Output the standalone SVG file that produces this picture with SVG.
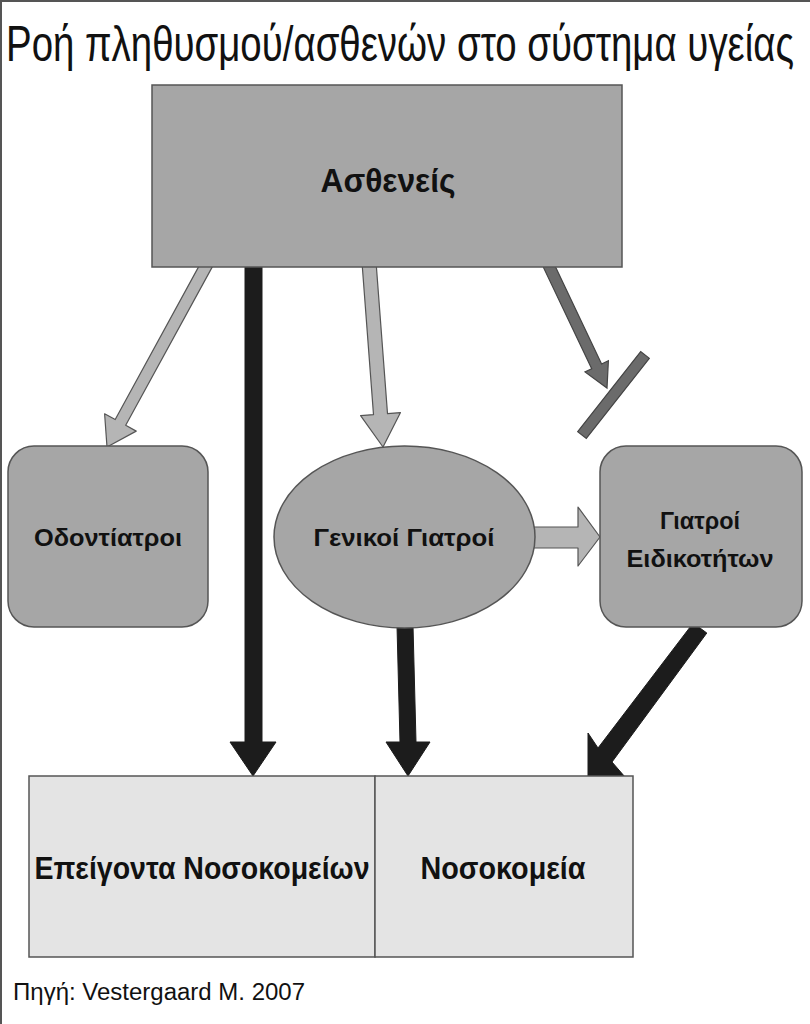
<svg xmlns="http://www.w3.org/2000/svg" width="810" height="1024" viewBox="0 0 810 1024">
<style>
.t{font-family:"Liberation Sans",Arial,sans-serif;fill:#111}
.b{font-weight:bold;text-anchor:middle}
.node{fill:#a6a6a6;stroke:#555;stroke-width:1.5}
.low{fill:#e4e4e4;stroke:#555;stroke-width:1.5}
.light{fill:#b5b5b5;stroke:#555;stroke-width:1.2;stroke-linejoin:round}
.dark{fill:#6b6b6b;stroke:#444;stroke-width:1.2}
.black{fill:#1c1c1c;stroke:#1c1c1c;stroke-width:1}
</style>
<rect x="0" y="0" width="810" height="1024" fill="#fff"/>
<line x1="1" y1="0" x2="1" y2="1024" stroke="#555" stroke-width="2"/>
<line x1="0" y1="1" x2="810" y2="1" stroke="#555" stroke-width="2"/>
<text class="t" x="6" y="45.2" font-size="37" transform="scale(1,1.35)" textLength="788" lengthAdjust="spacingAndGlyphs">Ροή πληθυσμού/ασθενών στο σύστημα υγείας</text>

<g id="connectors">
  <polygon class="light" points="212.3,266.9 125.7,425.3 136.2,431.1 107,447 104.6,413.8 115.2,419.5 201.7,261.1"/>
  <polygon class="black" points="245,262 262,262 262,742 276,742 253,776 230,742 245,742"/>
  <polygon class="light" points="376,261.5 387.5,413.6 400.5,412.6 383,447 360.6,415.6 373.5,414.6 362,262.5"/>
  <polygon class="dark" points="552,259.6 601.6,364 608.4,360.8 607,388 585,371.9 591.7,368.7 542,264.4"/>
  <polygon class="dark" points="649.3,358.4 586.3,438.4 577.7,431.6 640.7,351.6"/>
  <polygon class="light" points="525,527 578,527 578,507 600,537 578,566 578,548 525,548"/>
  <polygon class="black" points="397,626 413,626 416,742 430,742 408,776 386,742 400,742"/>
  <polygon class="black" points="693.2,623 706.8,633 612,762 625,777 588,777 588,733 598,748"/>
</g>

<g id="patients">
  <rect class="node" x="152" y="85" width="470" height="182"/>
  <text class="t b" x="388" y="192" font-size="33" textLength="135" lengthAdjust="spacingAndGlyphs">Ασθενείς</text>
</g>
<g id="dentists">
  <rect class="node" x="8" y="446" width="200" height="181" rx="26" ry="26"/>
  <text class="t b" x="108" y="546" font-size="24" textLength="148" lengthAdjust="spacingAndGlyphs">Οδοντίατροι</text>
</g>
<g id="gps">
  <ellipse class="node" cx="404.5" cy="537" rx="130.5" ry="91"/>
  <text class="t b" x="404" y="546" font-size="24" textLength="181" lengthAdjust="spacingAndGlyphs">Γενικοί Γιατροί</text>
</g>
<g id="specialists">
  <rect class="node" x="600" y="446" width="202" height="181" rx="26" ry="26"/>
  <text class="t b" x="700" y="529" font-size="24" textLength="80" lengthAdjust="spacingAndGlyphs">Γιατροί</text>
  <text class="t b" x="700" y="567" font-size="24" textLength="147" lengthAdjust="spacingAndGlyphs">Ειδικοτήτων</text>
</g>
<g id="emergency">
  <rect class="low" x="29" y="776" width="346" height="181"/>
  <text class="t b" x="202" y="879" font-size="32" textLength="335" lengthAdjust="spacingAndGlyphs">Επείγοντα Νοσοκομείων</text>
</g>
<g id="hospitals">
  <rect class="low" x="375" y="776" width="258" height="181"/>
  <text class="t b" x="503" y="879" font-size="32" textLength="165" lengthAdjust="spacingAndGlyphs">Νοσοκομεία</text>
</g>
<text class="t" x="13" y="1000" font-size="23" textLength="292" lengthAdjust="spacingAndGlyphs">Πηγή: Vestergaard M. 2007</text>
</svg>
